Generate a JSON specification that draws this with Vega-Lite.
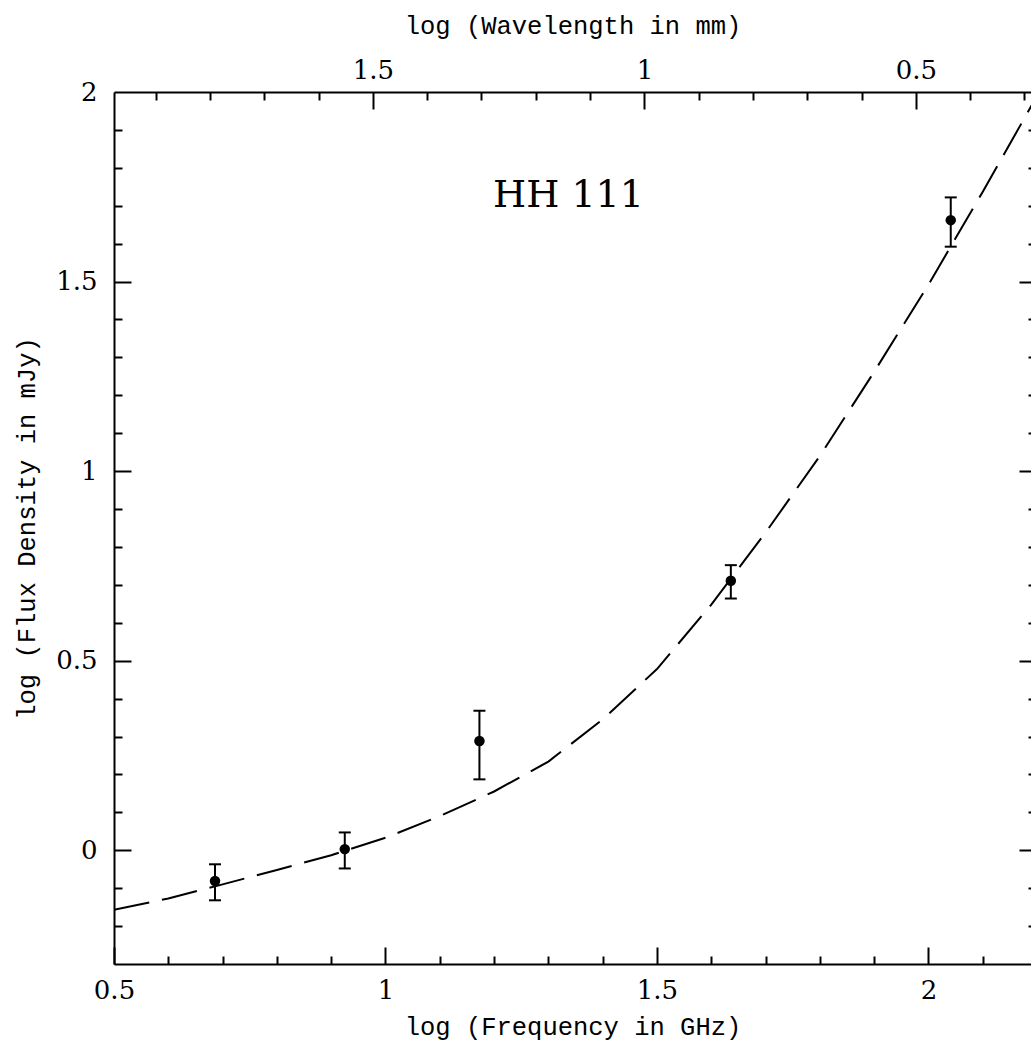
{
  "$schema": "https://vega.github.io/schema/vega-lite/v6.json",
  "width": 917,
  "height": 872,
  "autosize": "none",
  "padding": {"left": 114, "top": 92, "right": 0, "bottom": 83},
  "background": "white",
  "config": {
    "view": {"stroke": null},
    "axis": {
      "grid": false,
      "labelFont": "DejaVu Serif",
      "labelFontSize": 26,
      "labelColor": "black",
      "labelFlush": false,
      "labelOverlap": false,
      "titleFont": "Liberation Mono",
      "titleFontSize": 25.5,
      "titleFontWeight": "normal",
      "titleColor": "black",
      "domainColor": "black",
      "domainWidth": 2,
      "tickColor": "black",
      "tickWidth": 2
    }
  },
  "datasets": {
    "points": [
      {"nu": 0.686, "logS": -0.081, "lo": -0.132, "hi": -0.037},
      {"nu": 0.925, "logS": 0.003, "lo": -0.048, "hi": 0.047},
      {"nu": 1.173, "logS": 0.288, "lo": 0.187, "hi": 0.368},
      {"nu": 1.636, "logS": 0.711, "lo": 0.664, "hi": 0.752},
      {"nu": 2.041, "logS": 1.662, "lo": 1.592, "hi": 1.722}
    ],
    "curve": [
      {"nu": 0.5, "logS": -0.157},
      {"nu": 0.6, "logS": -0.127},
      {"nu": 0.7, "logS": -0.09},
      {"nu": 0.8, "logS": -0.052},
      {"nu": 0.9, "logS": -0.013},
      {"nu": 1.0, "logS": 0.033},
      {"nu": 1.1, "logS": 0.09},
      {"nu": 1.2, "logS": 0.155},
      {"nu": 1.3, "logS": 0.234},
      {"nu": 1.4, "logS": 0.345},
      {"nu": 1.5, "logS": 0.478},
      {"nu": 1.6, "logS": 0.648},
      {"nu": 1.7, "logS": 0.838},
      {"nu": 1.8, "logS": 1.04},
      {"nu": 1.9, "logS": 1.262},
      {"nu": 2.0, "logS": 1.492},
      {"nu": 2.1, "logS": 1.737},
      {"nu": 2.2, "logS": 1.99}
    ],
    "labels": [
      {"label": "HH 111", "nu": 1.337, "logS": 1.696}
    ]
  },
  "data": {"name": "points"},
  "layer": [
    {
      "data": {"name": "curve"},
      "mark": {"type": "line", "color": "black", "strokeWidth": 2, "strokeDash": [36, 13], "clip": true},
      "encoding": {
        "x": {"field": "nu", "type": "quantitative", "scale": {"domain": [0.5, 2.1888], "nice": false, "zero": false}, "axis": null},
        "y": {"field": "logS", "type": "quantitative", "scale": {"domain": [-0.3, 2], "nice": false, "zero": false}, "axis": null}
      }
    },
    {
      "mark": {"type": "rule", "color": "black", "strokeWidth": 2},
      "encoding": {
        "x": {"field": "nu", "type": "quantitative", "scale": {"domain": [0.5, 2.1888], "nice": false, "zero": false}, "axis": null},
        "y": {"field": "lo", "type": "quantitative", "scale": {"domain": [-0.3, 2], "nice": false, "zero": false}, "axis": null},
        "y2": {"field": "hi"}
      }
    },
    {
      "mark": {"type": "tick", "orient": "horizontal", "color": "black", "thickness": 2, "size": 12, "opacity": 1},
      "encoding": {
        "x": {"field": "nu", "type": "quantitative", "scale": {"domain": [0.5, 2.1888], "nice": false, "zero": false}, "axis": null},
        "y": {"field": "lo", "type": "quantitative", "scale": {"domain": [-0.3, 2], "nice": false, "zero": false}, "axis": null}
      }
    },
    {
      "mark": {"type": "tick", "orient": "horizontal", "color": "black", "thickness": 2, "size": 12, "opacity": 1},
      "encoding": {
        "x": {"field": "nu", "type": "quantitative", "scale": {"domain": [0.5, 2.1888], "nice": false, "zero": false}, "axis": null},
        "y": {"field": "hi", "type": "quantitative", "scale": {"domain": [-0.3, 2], "nice": false, "zero": false}, "axis": null}
      }
    },
    {
      "mark": {"type": "circle", "color": "black", "size": 110, "opacity": 1},
      "encoding": {
        "x": {"field": "nu", "type": "quantitative", "scale": {"domain": [0.5, 2.1888], "nice": false, "zero": false}, "axis": null},
        "y": {"field": "logS", "type": "quantitative", "scale": {"domain": [-0.3, 2], "nice": false, "zero": false}, "axis": null}
      }
    },
    {
      "data": {"name": "labels"},
      "mark": {"type": "text", "font": "DejaVu Serif", "fontSize": 38, "align": "center", "baseline": "alphabetic", "color": "black"},
      "encoding": {
        "x": {"field": "nu", "type": "quantitative", "scale": {"domain": [0.5, 2.1888], "nice": false, "zero": false}, "axis": null},
        "y": {"field": "logS", "type": "quantitative", "scale": {"domain": [-0.3, 2], "nice": false, "zero": false}, "axis": null},
        "text": {"field": "label"}
      }
    },
    {
      "mark": {"type": "point", "opacity": 0},
      "encoding": {
        "x": {"datum": 1, "type": "quantitative", "scale": {"domain": [0.5, 2.1888], "nice": false, "zero": false},
          "axis": {"orient": "bottom", "values": [0.5, 1, 1.5, 2], "format": "~g", "ticks": false, "domain": true, "labelPadding": 13, "title": "log (Frequency in GHz)", "titlePadding": 11}},
        "y": {"datum": 0, "type": "quantitative", "scale": {"domain": [-0.3, 2], "nice": false, "zero": false}, "axis": null}
      }
    },
    {
      "mark": {"type": "point", "opacity": 0},
      "encoding": {
        "x": {"datum": 1, "type": "quantitative", "scale": {"domain": [0.5, 2.1888], "nice": false, "zero": false},
          "axis": {"orient": "bottom", "values": [0.5, 0.6, 0.7, 0.8, 0.9, 1.0, 1.1, 1.2, 1.3, 1.4, 1.5, 1.6, 1.7, 1.8, 1.9, 2.0, 2.1], "labels": false, "domain": false, "title": null,
            "tickSize": {"condition": {"test": "abs(datum.value*2-round(datum.value*2))<0.001", "value": -17}, "value": -8}}},
        "y": {"datum": 0, "type": "quantitative", "scale": {"domain": [-0.3, 2], "nice": false, "zero": false}, "axis": null}
      }
    },
    {
      "mark": {"type": "point", "opacity": 0},
      "encoding": {
        "x": {"datum": 1, "type": "quantitative", "scale": {"domain": [0.288, 1.9768], "reverse": true, "nice": false, "zero": false},
          "axis": {"orient": "top", "values": [0.5, 1, 1.5], "format": "~g", "ticks": false, "domain": true, "labelPadding": 9, "title": "log (Wavelength in mm)", "titlePadding": 19}},
        "y": {"datum": 0, "type": "quantitative", "scale": {"domain": [-0.3, 2], "nice": false, "zero": false}, "axis": null}
      }
    },
    {
      "mark": {"type": "point", "opacity": 0},
      "encoding": {
        "x": {"datum": 1, "type": "quantitative", "scale": {"domain": [0.288, 1.9768], "reverse": true, "nice": false, "zero": false},
          "axis": {"orient": "top", "values": [0.3, 0.4, 0.5, 0.6, 0.7, 0.8, 0.9, 1.0, 1.1, 1.2, 1.3, 1.4, 1.5, 1.6, 1.7, 1.8, 1.9], "labels": false, "domain": false, "title": null,
            "tickSize": {"condition": {"test": "abs(datum.value*2-round(datum.value*2))<0.001", "value": -17}, "value": -8}}},
        "y": {"datum": 0, "type": "quantitative", "scale": {"domain": [-0.3, 2], "nice": false, "zero": false}, "axis": null}
      }
    },
    {
      "mark": {"type": "point", "opacity": 0},
      "encoding": {
        "x": {"datum": 1, "type": "quantitative", "scale": {"domain": [0.5, 2.1888], "nice": false, "zero": false}, "axis": null},
        "y": {"datum": 0, "type": "quantitative", "scale": {"domain": [-0.3, 2], "nice": false, "zero": false},
          "axis": {"orient": "left", "values": [0, 0.5, 1, 1.5, 2], "format": "~g", "ticks": false, "domain": true, "labelPadding": 17, "title": "log (Flux Density in mJy)", "titlePadding": 16}}
      }
    },
    {
      "mark": {"type": "point", "opacity": 0},
      "encoding": {
        "x": {"datum": 1, "type": "quantitative", "scale": {"domain": [0.5, 2.1888], "nice": false, "zero": false}, "axis": null},
        "y": {"datum": 0, "type": "quantitative", "scale": {"domain": [-0.3, 2], "nice": false, "zero": false},
          "axis": {"orient": "left", "values": [-0.2, -0.1, 0, 0.1, 0.2, 0.3, 0.4, 0.5, 0.6, 0.7, 0.8, 0.9, 1.0, 1.1, 1.2, 1.3, 1.4, 1.5, 1.6, 1.7, 1.8, 1.9], "labels": false, "domain": false, "title": null,
            "tickSize": {"condition": {"test": "abs(datum.value*2-round(datum.value*2))<0.001", "value": -17}, "value": -8}}}
      }
    },
    {
      "mark": {"type": "point", "opacity": 0},
      "encoding": {
        "x": {"datum": 1, "type": "quantitative", "scale": {"domain": [0.5, 2.1888], "nice": false, "zero": false}, "axis": null},
        "y": {"datum": 0, "type": "quantitative", "scale": {"domain": [-0.3, 2], "nice": false, "zero": false},
          "axis": {"orient": "right", "offset": 5, "values": [-0.2, -0.1, 0, 0.1, 0.2, 0.3, 0.4, 0.5, 0.6, 0.7, 0.8, 0.9, 1.0, 1.1, 1.2, 1.3, 1.4, 1.5, 1.6, 1.7, 1.8, 1.9], "labels": false, "domain": false, "title": null,
            "tickSize": {"condition": {"test": "abs(datum.value*2-round(datum.value*2))<0.001", "value": -17}, "value": -8}}}
      }
    }
  ],
  "resolve": {
    "scale": {"x": "independent", "y": "independent"},
    "axis": {"x": "independent", "y": "independent"}
  }
}
